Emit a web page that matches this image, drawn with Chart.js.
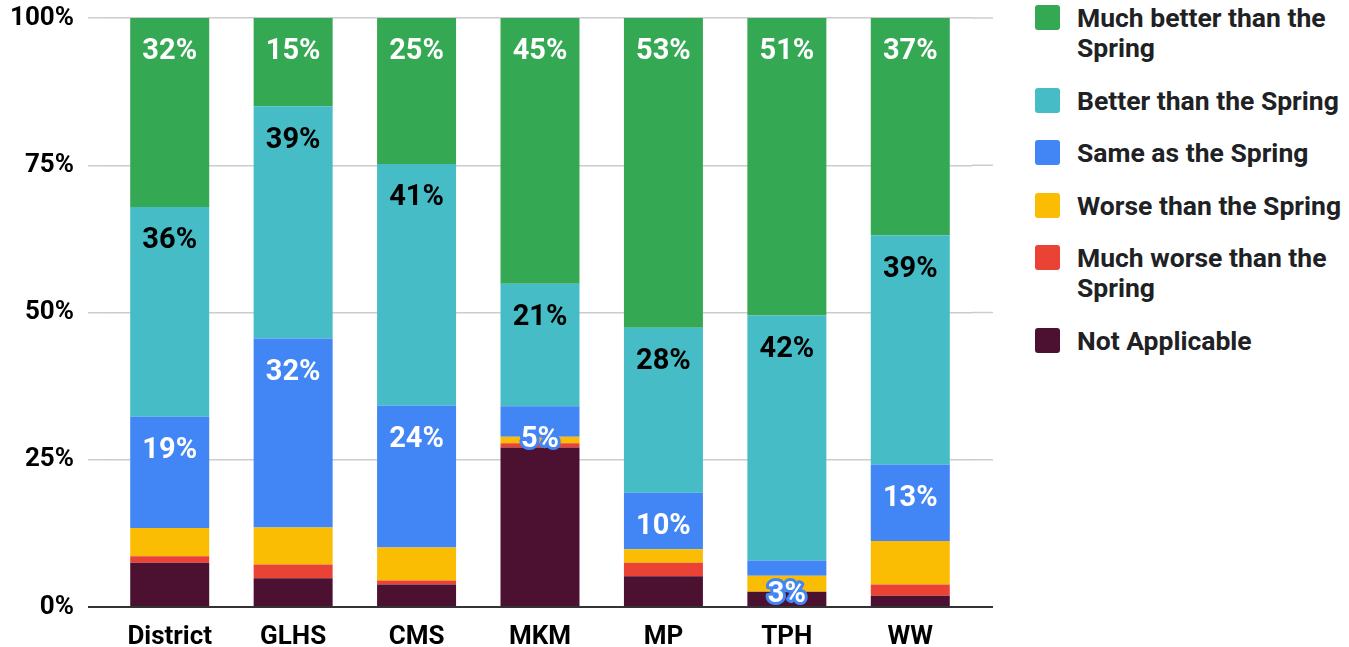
<!DOCTYPE html>
<html>
<head>
<meta charset="utf-8">
<script src="https://cdn.jsdelivr.net/npm/chart.js@4"></script>
<style>
  body { margin: 0; background: #fff; font-family: Roboto, Arial, sans-serif; }
  #wrap { position: relative; width: 1349px; height: 647px; overflow: hidden; }
  #chart { position: absolute; left: 0; top: 0; }
  #legend { position: absolute; left: 1035px; top: 3px; width: 314px; }
  .item { display: flex; align-items: flex-start; margin-bottom: 22.5px; }
  .swatch { width: 25px; height: 25px; border-radius: 3px; margin-top: 2px; flex: none; }
  .text { margin-left: 17px; font-weight: bold; font-size: 26.5px; line-height: 30px; color: #202124; width: 280px; }
</style>
</head>
<body>
<div id="wrap">
  <canvas id="chart" width="1000" height="647"></canvas>
  <div id="legend"></div>
</div>
<script>
// Categories (schools)
const schools = ['District', 'GLHS', 'CMS', 'MKM', 'MP', 'TPH', 'WW'];

// Percent of responses per answer
const notApplicable = [7.5, 4.9, 3.8, 27.1, 5.2, 2.6, 1.9];
const muchWorse     = [1.1, 2.3, 0.7, 0.7, 2.3, 0, 1.9];
const worse         = [4.8, 6.3, 5.6, 1.1, 2.3, 2.7, 7.4];
const same          = [18.9, 32.1, 24.1, 5.2, 9.6, 2.6, 13.0];
const better        = [35.6, 39.4, 41.0, 20.8, 28.0, 41.6, 38.9];
const muchBetter    = [32.1, 15.0, 24.8, 45.1, 52.6, 50.5, 36.9];

const yTicks = [0, 25, 50, 75, 100];

// bottom of the stack first
const datasets = [
  { label: 'Not Applicable', data: notApplicable, backgroundColor: '#4c1130' },
  { label: 'Much worse than the Spring', data: muchWorse, backgroundColor: '#ea4335' },
  { label: 'Worse than the Spring', data: worse, backgroundColor: '#fbbc04' },
  { label: 'Same as the Spring', data: same, backgroundColor: '#4285f4', showLabels: true, labelColor: '#fff' },
  { label: 'Better than the Spring', data: better, backgroundColor: '#46bdc6', showLabels: true, labelColor: '#000' },
  { label: 'Much better than the Spring', data: muchBetter, backgroundColor: '#34a853', showLabels: true, labelColor: '#fff' }
];

const GRID_RIGHT = 993;

// Draws the % labels near the top of each labelled segment
const segmentLabels = {
  id: 'segmentLabels',
  afterDatasetsDraw(chart) {
    const ctx = chart.ctx;
    ctx.save();
    ctx.font = 'bold 29px Roboto, Arial, sans-serif';
    ctx.textAlign = 'center';
    ctx.textBaseline = 'middle';
    ctx.lineJoin = 'round';
    chart.data.datasets.forEach((ds, i) => {
      if (!ds.showLabels) return;
      const meta = chart.getDatasetMeta(i);
      meta.data.forEach((bar, j) => {
        const v = ds.data[j];
        if (!v) return;
        const txt = Math.round(v) + '%';
        const h = bar.base - bar.y;
        const y = bar.y + 34;
        // small segments: label spills over, give it an outline
        if (h < 45) {
          ctx.lineWidth = 6;
          ctx.strokeStyle = ds.backgroundColor;
          ctx.strokeText(txt, bar.x, y);
        }
        ctx.fillStyle = ds.labelColor;
        ctx.fillText(txt, bar.x, y);
      });
    });
    ctx.restore();
  }
};

// Gridlines in the sheet run a bit past the last bar
const gridExtend = {
  id: 'gridExtend',
  beforeDatasetsDraw(chart) {
    const ctx = chart.ctx;
    const y = chart.scales.y;
    ctx.save();
    yTicks.forEach(t => {
      const py = y.getPixelForValue(t);
      ctx.beginPath();
      ctx.strokeStyle = t === 0 ? '#333' : '#ccc';
      ctx.lineWidth = t === 0 ? 2 : 1.5;
      ctx.moveTo(chart.chartArea.right, py);
      ctx.lineTo(GRID_RIGHT, py);
      ctx.stroke();
    });
    ctx.restore();
  }
};

new Chart(document.getElementById('chart'), {
  type: 'bar',
  data: { labels: schools, datasets: datasets },
  options: {
    responsive: false,
    animation: false,
    layout: { padding: { top: 18, right: 28, left: 0, bottom: 0 } },
    datasets: { bar: { categoryPercentage: 1, barPercentage: 0.64 } },
    scales: {
      x: {
        stacked: true,
        grid: { display: false },
        border: { display: false },
        afterFit: s => { s.height = 40; },
        ticks: { color: '#000', font: { family: 'Roboto', weight: 'bold', size: 26 }, padding: 7 }
      },
      y: {
        stacked: true,
        min: 0,
        max: 100,
        afterFit: s => { s.width = 108; s.paddingTop = 0; s.paddingBottom = 0; },
        afterBuildTicks: s => { s.ticks = yTicks.map(v => ({ value: v })); },
        border: { display: false },
        grid: {
          tickLength: 20,
          color: c => (c.tick && c.tick.value === 0) ? '#333' : '#ccc',
          lineWidth: c => (c.tick && c.tick.value === 0) ? 2 : 1.5
        },
        ticks: {
          color: '#000',
          padding: 14,
          font: { family: 'Roboto', weight: 'bold', size: 26 },
          callback: v => v + '%'
        }
      }
    },
    plugins: {
      legend: { display: false },
      tooltip: { enabled: false }
    }
  },
  plugins: [segmentLabels, gridExtend]
});

// HTML legend so long names can wrap like the sheet's legend
const legend = document.getElementById('legend');
datasets.slice().reverse().forEach(ds => {
  const item = document.createElement('div');
  item.className = 'item';
  const sw = document.createElement('div');
  sw.className = 'swatch';
  sw.style.background = ds.backgroundColor;
  const tx = document.createElement('div');
  tx.className = 'text';
  tx.textContent = ds.label;
  item.appendChild(sw);
  item.appendChild(tx);
  legend.appendChild(item);
});
</script>
</body>
</html>
